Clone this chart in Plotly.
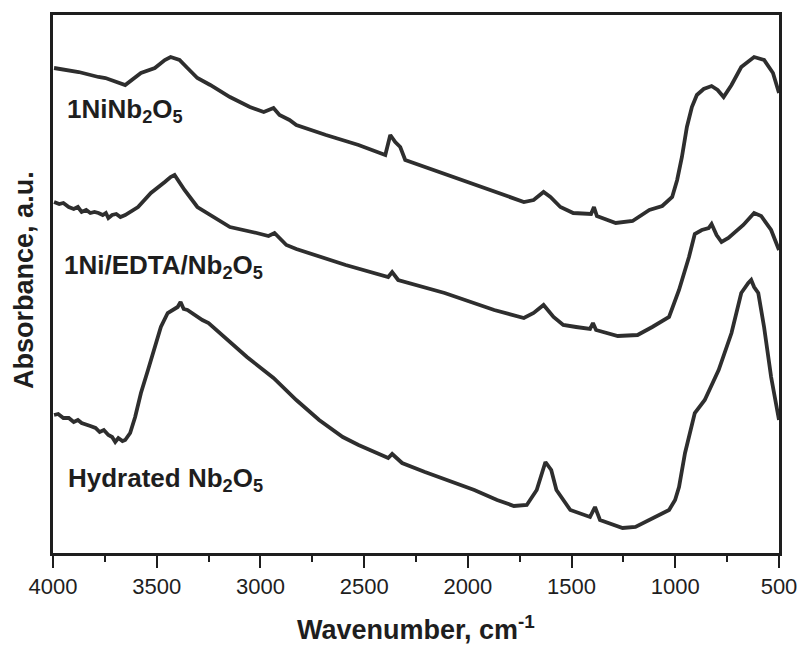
import plotly.graph_objects as go

# FTIR spectra (absorbance, arbitrary units, curves offset for clarity)
wn_ni = [3995, 3876, 3781, 3747, 3652, 3623, 3576, 3509, 3461, 3433, 3390, 3352,
         3304, 3242, 3147, 3051, 2984, 2937, 2908, 2860, 2827, 2684, 2527, 2398,
         2374, 2350, 2326, 2302, 2126, 1969, 1811, 1730, 1683, 1635, 1602, 1554,
         1492, 1444, 1406, 1392, 1378, 1287, 1206, 1125, 1063, 1015, 991, 968,
         944, 920, 896, 863, 825, 796, 767, 729, 682, 620, 572, 529, 500]
abs_ni = [4.85, 4.81, 4.76, 4.75, 4.68, 4.73, 4.80, 4.85, 4.93, 4.96, 4.93, 4.85,
          4.75, 4.68, 4.56, 4.46, 4.41, 4.45, 4.38, 4.33, 4.28, 4.18, 4.08, 3.98,
          4.18, 4.11, 4.06, 3.93, 3.80, 3.68, 3.56, 3.51, 3.53, 3.61, 3.56, 3.46,
          3.40, 3.39, 3.39, 3.46, 3.37, 3.30, 3.32, 3.43, 3.47, 3.56, 3.73, 3.96,
          4.26, 4.46, 4.58, 4.64, 4.67, 4.63, 4.56, 4.68, 4.86, 4.96, 4.93, 4.80, 4.60]

wn_edta = [3995, 3970, 3950, 3924, 3900, 3880, 3862, 3840, 3820, 3800, 3781, 3760,
           3745, 3733, 3715, 3695, 3675, 3652, 3590, 3528, 3461, 3433, 3414,
           3366, 3304, 3223, 3147, 3018, 2961, 2932, 2875, 2827, 2589, 2384, 2365,
           2336, 2112, 1873, 1730, 1683, 1635, 1587, 1540, 1478, 1411, 1397, 1382,
           1277, 1182, 1111, 1030, 982, 934, 906, 872, 839, 825, 801, 777, 744, 715,
           672, 620, 586, 538, 500]
abs_edta = [3.51, 3.49, 3.50, 3.46, 3.44, 3.46, 3.41, 3.43, 3.40, 3.41, 3.40, 3.38,
            3.40, 3.35, 3.38, 3.39, 3.36, 3.38, 3.46, 3.60, 3.71, 3.76, 3.78,
            3.63, 3.46, 3.36, 3.26, 3.20, 3.17, 3.20, 3.08, 3.04, 2.88, 2.76, 2.81,
            2.73, 2.60, 2.43, 2.35, 2.40, 2.48, 2.36, 2.28, 2.26, 2.24, 2.30, 2.23,
            2.17, 2.18, 2.26, 2.36, 2.63, 2.96, 3.19, 3.23, 3.25, 3.29, 3.18, 3.11, 3.15, 3.20,
            3.28, 3.40, 3.37, 3.23, 3.03]

wn_hyd = [3995, 3975, 3950, 3924, 3900, 3880, 3862, 3840, 3820, 3795, 3775, 3755,
          3733, 3715, 3700, 3685, 3665, 3652, 3628, 3604, 3576, 3542, 3509,
          3480, 3447, 3420, 3399, 3385, 3370, 3352, 3330, 3304, 3280, 3250, 3194,
          3065, 2937, 2827, 2717, 2603,
          2527, 2384, 2365, 2317, 2207, 2126, 1969, 1859, 1778, 1716, 1668, 1626,
          1598, 1573, 1506, 1411, 1387, 1363, 1254, 1192, 1111, 1030, 1001, 982,
          953, 920, 906, 858, 791, 729, 682, 648, 634, 620, 600, 572, 538, 500]
abs_hyd = [1.38, 1.39, 1.35, 1.35, 1.31, 1.33, 1.30, 1.28, 1.27, 1.25, 1.21, 1.23,
           1.18, 1.16, 1.11, 1.15, 1.12, 1.13, 1.20, 1.36, 1.60, 1.83, 2.06,
           2.26, 2.40, 2.44, 2.46, 2.51, 2.44, 2.43, 2.40, 2.36, 2.33, 2.30, 2.20,
           1.96, 1.75, 1.53, 1.33, 1.16,
           1.08, 0.95, 0.99, 0.90, 0.81, 0.75, 0.63, 0.53, 0.47, 0.48, 0.63, 0.91,
           0.83, 0.63, 0.43, 0.36, 0.46, 0.33, 0.25, 0.26, 0.35, 0.43, 0.53, 0.66,
           1.00, 1.26, 1.40, 1.53, 1.83, 2.20, 2.60, 2.70, 2.73, 2.66, 2.60, 2.26, 1.76, 1.33]

x_ticks = [4000, 3500, 3000, 2500, 2000, 1500, 1000, 500]

FONT = "Liberation Sans, Arial, sans-serif"
LINE = "#2e2e2e"
INK = "#1e1e1e"

fig = go.Figure()
for wn, ab in [(wn_ni, abs_ni), (wn_edta, abs_edta), (wn_hyd, abs_hyd)]:
    fig.add_trace(go.Scatter(x=wn, y=ab, mode="lines",
                             line=dict(color=LINE, width=3.8),
                             showlegend=False, hoverinfo="skip"))

labels = [
    ("1NiNb<sub>2</sub>O<sub>5</sub>", 0.016, 0.823),
    ("1Ni/EDTA/Nb<sub>2</sub>O<sub>5</sub>", 0.013, 0.532),
    ("Hydrated Nb<sub>2</sub>O<sub>5</sub>", 0.018, 0.136),
]
annotations = [dict(text=t, x=x, y=y, xref="paper", yref="paper",
                    xanchor="left", yanchor="middle", showarrow=False,
                    font=dict(family=FONT, size=26, color=INK, weight="bold"))
               for t, x, y in labels]
annotations.append(dict(text="Wavenumber, cm<sup>-1</sup>", x=0.5, y=-0.139,
                        xref="paper", yref="paper", xanchor="center", yanchor="middle",
                        showarrow=False,
                        font=dict(family=FONT, size=27, color=INK, weight="bold")))
annotations.append(dict(text="Absorbance, a.u.", x=-0.039, y=0.507, textangle=-90,
                        xref="paper", yref="paper", xanchor="center", yanchor="middle",
                        showarrow=False,
                        font=dict(family=FONT, size=27, color=INK, weight="bold")))

fig.update_layout(
    width=809, height=647,
    margin=dict(l=53, r=21, t=15, b=94),
    paper_bgcolor="white", plot_bgcolor="white",
    annotations=annotations,
    xaxis=dict(range=[4000, 500], tickvals=x_ticks, ticktext=[str(v) for v in x_ticks],
               ticks="outside", ticklen=12, tickwidth=2, tickcolor=INK,
               showline=True, linewidth=2.5, linecolor=INK, mirror=True,
               showgrid=False, zeroline=False,
               tickfont=dict(family=FONT, size=22, color=INK),
               minor=dict(ticks="outside", ticklen=6, tickwidth=2, tickcolor=INK,
                          dtick=250, tick0=500, showgrid=False)),
    yaxis=dict(range=[0, 5.38], showticklabels=False, ticks="",
               showline=True, linewidth=2.5, linecolor=INK, mirror=True,
               showgrid=False, zeroline=False),
)

fig.write_html("out.html")
